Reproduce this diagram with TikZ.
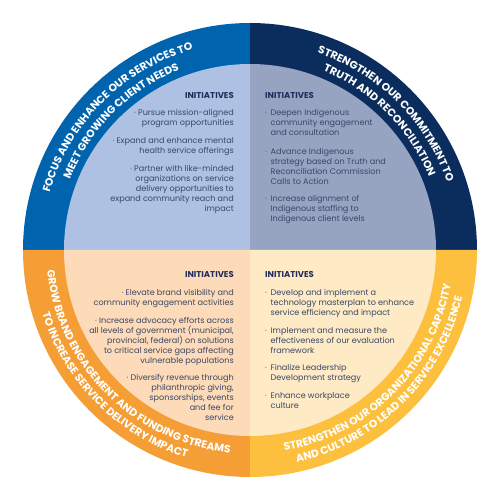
\documentclass[tikz,border=0pt]{standalone}
\usepackage{fontspec}
\newfontfamily\pop{Poppins}
\usetikzlibrary{decorations.text}
\definecolor{ringTL}{HTML}{0063AE}
\definecolor{ringTR}{HTML}{0B2D5E}
\definecolor{ringBL}{HTML}{F59E35}
\definecolor{ringBR}{HTML}{FDC03E}
\definecolor{fillTL}{HTML}{AEC1E3}
\definecolor{fillTR}{HTML}{96A3C1}
\definecolor{fillBL}{HTML}{FDDBB8}
\definecolor{fillBR}{HTML}{FEEBC5}
\definecolor{txt}{HTML}{3A4767}
\definecolor{headc}{HTML}{1F2E5B}
\newcommand\bl{\makebox[5.5pt][l]{·}}
\newcommand\ind{\hspace*{5.5pt}}
\begin{document}
\begin{tikzpicture}[x=1pt,y=1pt,
 body/.style={font=\pop\fontsize{8.1}{10}\selectfont, text=txt, inner sep=0pt},
 rbody/.style={body, align=right, anchor=base east},
 lbody/.style={body, align=left, anchor=base west},
 headtxt/.style={font=\pop\bfseries\fontsize{8.5}{10}\selectfont, text=headc, inner sep=0pt},
 ringtext/.style={decorate, decoration={text along path, text align=center, text color=white, text={|\pop\bfseries\fontsize{10.7}{11}\selectfont|#1}}}
]
\useasboundingbox (-250,-250) rectangle (250,250);
\fill[white] (-250,-250) rectangle (250,250);
% rings
\fill[ringTL] (0,0) -- (180:227pt) arc[start angle=180,end angle=90,radius=227pt] -- cycle;
\fill[ringTR] (0,0) -- (90:227pt) arc[start angle=90,end angle=0,radius=227pt] -- cycle;
\fill[ringBL] (0,0) -- (180:227pt) arc[start angle=180,end angle=270,radius=227pt] -- cycle;
\fill[ringBR] (0,0) -- (270:227pt) arc[start angle=270,end angle=360,radius=227pt] -- cycle;
% inner
\fill[fillTL] (0,0) -- (180:186pt) arc[start angle=180,end angle=90,radius=186pt] -- cycle;
\fill[fillTR] (0,0) -- (90:186pt) arc[start angle=90,end angle=0,radius=186pt] -- cycle;
\fill[fillBL] (0,0) -- (180:186pt) arc[start angle=180,end angle=270,radius=186pt] -- cycle;
\fill[fillBR] (0,0) -- (270:186pt) arc[start angle=270,end angle=360,radius=186pt] -- cycle;
% ring texts
\path[ringtext={FOCUS AND ENHANCE OUR SERVICES TO}] (180:208.3pt) arc[start angle=180,end angle=90,radius=208.3pt];
\path[ringtext={MEET GROWING CLIENT NEEDS}] (180:193.3pt) arc[start angle=180,end angle=90,radius=193.3pt];
\path[ringtext={STRENGTHEN OUR COMMITMENT TO}] (90:208.3pt) arc[start angle=90,end angle=0,radius=208.3pt];
\path[ringtext={TRUTH AND RECONCILIATION}] (90:193.3pt) arc[start angle=90,end angle=0,radius=193.3pt];
\path[ringtext={GROW BRAND ENGAGEMENT AND FUNDING STREAMS}] (180:203.7pt) arc[start angle=180,end angle=270,radius=203.7pt];
\path[ringtext={TO INCREASE SERVICE DELIVERY IMPACT}] (180:217.2pt) arc[start angle=180,end angle=270,radius=217.2pt];
\path[ringtext={STRENGTHEN OUR ORGANIZATIONAL CAPACITY}] (270:203.7pt) arc[start angle=270,end angle=360,radius=203.7pt];
\path[ringtext={AND CULTURE TO LEAD IN SERVICE EXCELLENCE}] (270:217.2pt) arc[start angle=270,end angle=360,radius=217.2pt];
% top-left
\node[headtxt, anchor=base east] (h1) at (-16,151.3) {INITIATIVES};
\node[rbody] (a1) at (-16,124.2) {· Pursue mission-aligned\\program opportunities};
\node[rbody] (a2) at (-16,96.2) {· Expand and enhance mental\\health service offerings};
\node[rbody] (a3) at (-16,38.5) {· Partner with like-minded\\organizations on service\\delivery opportunities to\\expand community reach and\\impact};
% top-right
\node[headtxt, anchor=base west] (h2) at (15,151.3) {INITIATIVES};
\node[lbody] (b1) at (15,114.2) {\bl Deepen Indigenous\\\ind community engagement\\\ind and consultation};
\node[lbody] (b2) at (15,65.8) {\bl Advance Indigenous\\\ind strategy based on Truth and\\\ind Reconciliation Commission\\\ind Calls to Action};
\node[lbody] (b3) at (15,28.2) {\bl Increase alignment of\\\ind Indigenous staffing to\\\ind Indigenous client levels};
% bottom-left
\node[headtxt, anchor=base east] (h3) at (-16,-28) {INITIATIVES};
\node[rbody] (c1) at (-16,-55.2) {· Elevate brand visibility and\\community engagement activities};
\node[rbody] (c2) at (-16,-113.5) {· Increase advocacy efforts across\\all levels of government (municipal,\\provincial, federal) on solutions\\to critical service gaps affecting\\vulnerable populations};
\node[rbody] (c3) at (-16,-170.8) {· Diversify revenue through\\philanthropic giving,\\sponsorships, events\\and fee for\\service};
% bottom-right
\node[headtxt, anchor=base west] (h4) at (15,-28) {INITIATIVES};
\node[lbody] (d1) at (15,-65.2) {\bl Develop and implement a\\\ind technology masterplan to enhance\\\ind service efficiency and impact};
\node[lbody] (d2) at (15,-103.2) {\bl Implement and measure the\\\ind effectiveness of our evaluation\\\ind framework};
\node[lbody] (d3) at (15,-130.8) {\bl Finalize Leadership\\\ind Development strategy};
\node[lbody] (d4) at (15,-158.5) {\bl Enhance workplace\\\ind culture};
\end{tikzpicture}
\end{document}
